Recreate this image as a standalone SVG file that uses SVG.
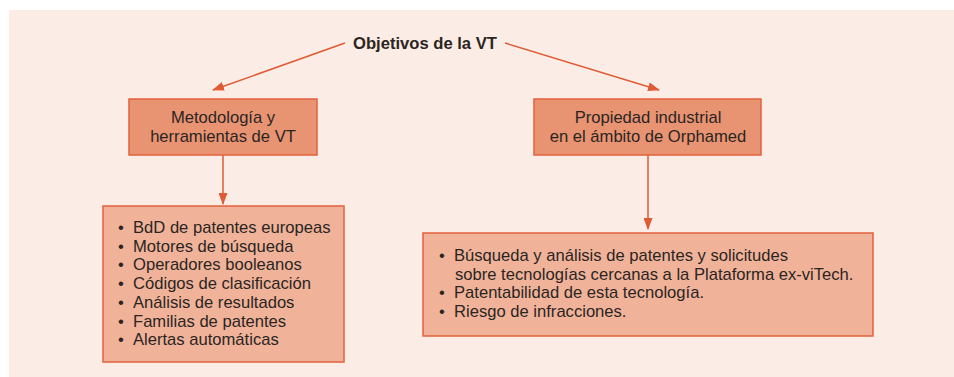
<svg xmlns="http://www.w3.org/2000/svg" width="954" height="377" viewBox="0 0 954 377">
<style>
.bg{fill:#FBEDE5}
.hdr{fill:#E89372;stroke:#E2623D;stroke-width:1.5}
.lst{fill:#F0B39A;stroke:#E2623D;stroke-width:1.5}
.t{font-family:"Liberation Sans",Arial,sans-serif;font-size:16.6px;fill:#2B2522}
.c{text-anchor:middle}
.b{font-weight:bold}
.ln{stroke:#E05A35;stroke-width:1.5;fill:none}
</style>
<defs>
<marker id="ah" markerWidth="12" markerHeight="9" refX="11" refY="4.5" orient="auto" markerUnits="userSpaceOnUse">
<path d="M0,0 L12,4.5 L0,9 Z" fill="#E05A35"/>
</marker>
</defs>
<rect class="bg" x="9" y="10" width="945" height="367"/>
<g id="title"><text class="t c b" x="425" y="49">Objetivos de la VT</text></g>
<g id="connectors">
<line class="ln" x1="345" y1="43" x2="213" y2="90" marker-end="url(#ah)"/>
<line class="ln" x1="505" y1="43" x2="659" y2="90" marker-end="url(#ah)"/>
<line class="ln" x1="223" y1="155" x2="223" y2="204" marker-end="url(#ah)"/>
<line class="ln" x1="648" y1="155" x2="648" y2="229" marker-end="url(#ah)"/>
</g>
<g id="metodologia">
<rect class="hdr" x="129" y="99" width="188" height="56"/>
<text class="t c" x="223" y="123">Metodología y</text>
<text class="t c" x="223" y="142">herramientas de VT</text>
</g>
<g id="propiedad">
<rect class="hdr" x="534" y="99" width="227" height="56"/>
<text class="t c" x="648" y="123">Propiedad industrial</text>
<text class="t c" x="648" y="142">en el ámbito de Orphamed</text>
</g>
<g id="lista-metodologia">
<rect class="lst" x="103" y="206" width="241" height="156"/>
<text class="t" x="118" y="233">•<tspan x="133">BdD de patentes europeas</tspan></text>
<text class="t" x="118" y="251.7">•<tspan x="133">Motores de búsqueda</tspan></text>
<text class="t" x="118" y="270.4">•<tspan x="133">Operadores booleanos</tspan></text>
<text class="t" x="118" y="289.1">•<tspan x="133">Códigos de clasificación</tspan></text>
<text class="t" x="118" y="307.8">•<tspan x="133">Análisis de resultados</tspan></text>
<text class="t" x="118" y="326.5">•<tspan x="133">Familias de patentes</tspan></text>
<text class="t" x="118" y="345.2">•<tspan x="133">Alertas automáticas</tspan></text>
</g>
<g id="lista-propiedad">
<rect class="lst" x="423" y="233" width="450" height="103"/>
<text class="t" x="439" y="261">•<tspan x="454">Búsqueda y análisis de patentes y solicitudes</tspan></text>
<text class="t" x="455" y="279.5">sobre tecnologías cercanas a la Plataforma ex-viTech.</text>
<text class="t" x="439" y="298">•<tspan x="454">Patentabilidad de esta tecnología.</tspan></text>
<text class="t" x="439" y="317">•<tspan x="454">Riesgo de infracciones.</tspan></text>
</g>
</svg>
